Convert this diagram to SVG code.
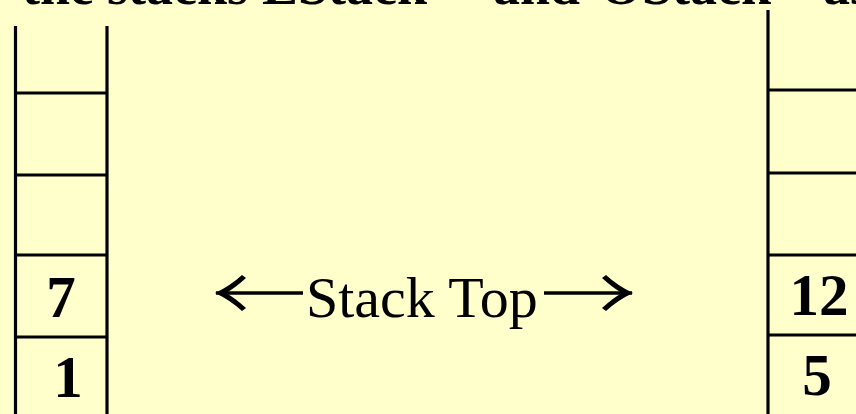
<svg xmlns="http://www.w3.org/2000/svg" width="856" height="414" viewBox="0 0 856 414">
  <style>
    .bg { fill: #FFFFCC; }
    .rule { stroke: #000; stroke-width: 3.2; fill: none; }
    .num { font-family: "Liberation Serif", "Times New Roman", serif; font-size: 59px; font-weight: bold; fill: #000; text-anchor: middle; }
    .label { font-family: "Liberation Serif", "Times New Roman", serif; font-size: 58px; fill: #000; }
    .caption { font-family: "Liberation Serif", "Times New Roman", serif; font-size: 54px; font-weight: bold; fill: #000; }
    .arrow { stroke: #000; stroke-width: 3.6; fill: none; }
  </style>
  <defs>
    <!-- curved arrowhead with tapered barbs; tip at (33,18) -->
    <marker id="head" viewBox="0 0 34 38" refX="32" refY="18" markerWidth="34" markerHeight="38" markerUnits="userSpaceOnUse" orient="auto">
      <path d="M33,18 Q18,11 6,0 L2,3 Q13,13 22,18 Q13,23 2,33 L6,36 Q18,25 33,18 Z" fill="#000"/>
    </marker>
  </defs>

  <rect class="bg" x="0" y="0" width="856" height="414"/>

  <!-- caption line, mostly above the visible area -->
  <text class="caption" y="4">
    <tspan x="22">the</tspan>
    <tspan x="107">stacks</tspan>
    <tspan x="262">EStack</tspan>
    <tspan x="493">and</tspan>
    <tspan x="600">OStack</tspan>
    <tspan x="823">as</tspan>
  </text>

  <!-- left stack -->
  <g id="left-stack">
    <line class="rule" x1="15.5" y1="26" x2="15.5" y2="414"/>
    <line class="rule" x1="107" y1="26" x2="107" y2="414"/>
    <line class="rule" x1="15" y1="93" x2="107" y2="93"/>
    <line class="rule" x1="15" y1="175" x2="107" y2="175"/>
    <line class="rule" x1="15" y1="255" x2="107" y2="255"/>
    <line class="rule" x1="15" y1="337" x2="107" y2="337"/>
    <text class="num" x="61" y="317">7</text>
    <text class="num" x="68" y="397">1</text>
  </g>

  <!-- right stack -->
  <g id="right-stack">
    <line class="rule" x1="768" y1="10" x2="768" y2="414"/>
    <line class="rule" x1="768" y1="90" x2="856" y2="90"/>
    <line class="rule" x1="768" y1="173" x2="856" y2="173"/>
    <line class="rule" x1="768" y1="255" x2="856" y2="255"/>
    <line class="rule" x1="768" y1="335" x2="856" y2="335"/>
    <text class="num" x="819" y="315">12</text>
    <text class="num" x="817" y="395">5</text>
  </g>

  <!-- stack top label -->
  <g id="stack-top">
    <text class="label" x="306" y="317">Stack Top</text>
  </g>

  <g id="connectors">
    <line class="arrow" x1="303" y1="293" x2="216" y2="293" marker-end="url(#head)"/>
    <line class="arrow" x1="544" y1="293" x2="632" y2="293" marker-end="url(#head)"/>
  </g>
</svg>
